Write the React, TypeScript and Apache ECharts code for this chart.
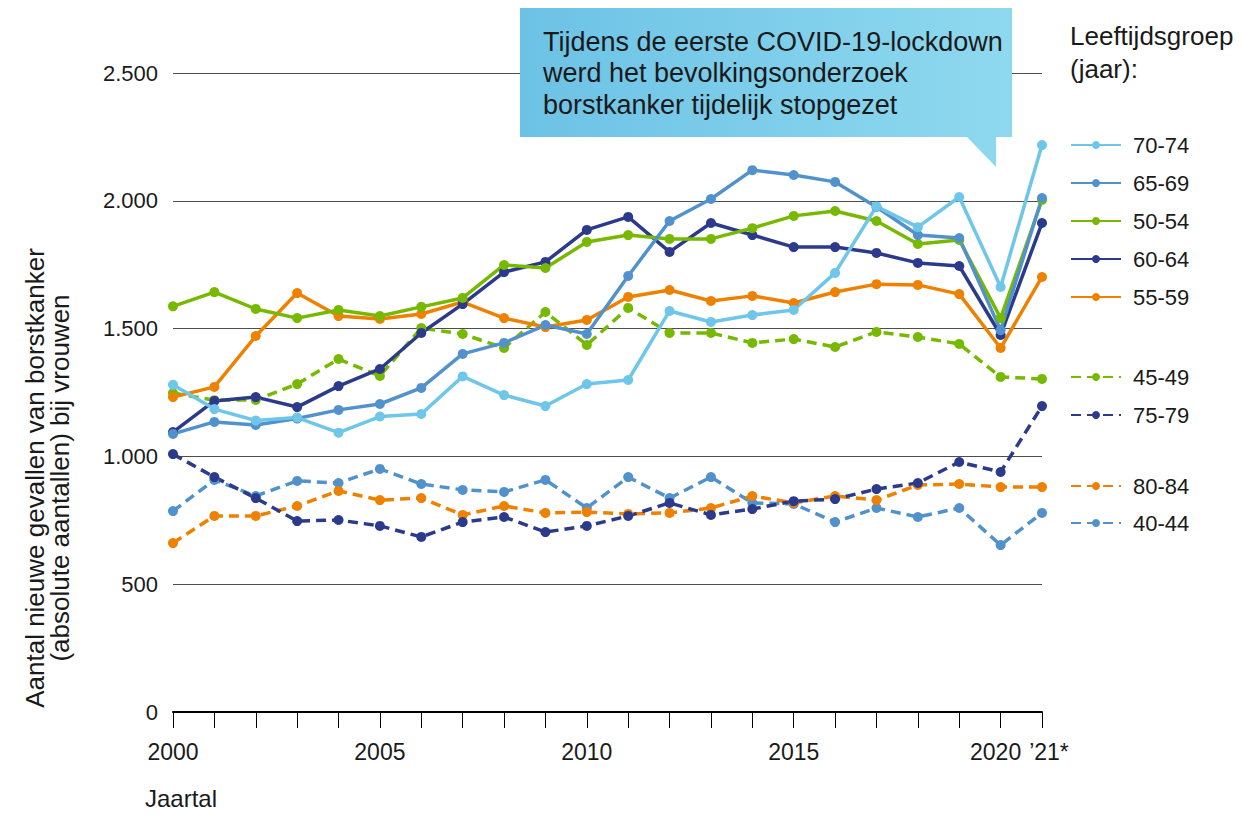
import React, { useEffect, useRef } from "react";
import * as echarts from "echarts";

const years = ["2000","2001","2002","2003","2004","2005","2006","2007","2008","2009","2010","2011","2012","2013","2014","2015","2016","2017","2018","2019","2020","2021"];
const yearLabels: Record<string, string> = { "2000": "2000", "2005": "2005", "2010": "2010", "2015": "2015", "2020": "{l|2020}", "2021": "{r|\u201921*}" };

const s7074 = [1280, 1185, 1140, 1152, 1093, 1156, 1166, 1313, 1240, 1197, 1283, 1299, 1569, 1526, 1553, 1573, 1718, 1978, 1897, 2015, 1663, 2218];
const s6569 = [1088, 1135, 1123, 1148, 1182, 1205, 1268, 1401, 1444, 1514, 1479, 1706, 1921, 2007, 2120, 2101, 2074, 1976, 1866, 1854, 1494, 2011];
const s5054 = [1587, 1643, 1577, 1541, 1573, 1549, 1585, 1620, 1749, 1737, 1839, 1866, 1851, 1851, 1893, 1941, 1960, 1921, 1831, 1847, 1541, 2003];
const s6064 = [1095, 1217, 1232, 1193, 1275, 1342, 1483, 1596, 1721, 1761, 1886, 1937, 1800, 1913, 1866, 1819, 1819, 1796, 1757, 1745, 1475, 1913];
const s5559 = [1232, 1272, 1471, 1639, 1549, 1538, 1557, 1604, 1541, 1506, 1534, 1624, 1651, 1608, 1628, 1600, 1643, 1674, 1671, 1635, 1424, 1702];
const s4549 = [1248, 1220, 1221, 1283, 1381, 1315, 1502, 1479, 1424, 1565, 1436, 1581, 1483, 1483, 1444, 1459, 1428, 1487, 1467, 1440, 1311, 1303];
const s7579 = [1009, 919, 837, 747, 751, 728, 685, 743, 763, 704, 728, 767, 818, 771, 794, 825, 833, 872, 896, 978, 939, 1197];
const s8084 = [661, 767, 767, 806, 865, 829, 837, 771, 806, 779, 782, 775, 779, 798, 845, 818, 845, 829, 888, 892, 880, 880];
const s4044 = [786, 908, 845, 904, 896, 951, 892, 869, 861, 908, 798, 919, 837, 919, 818, 814, 743, 798, 763, 798, 653, 779];

const legendSolid = ["70-74", "65-69", "50-54", "60-64", "55-59"];
const legendDashA = ["45-49", "75-79"];
const legendDashB = ["80-84", "40-44"];

const yTitle = ["Aantal nieuwe gevallen van borstkanker", "(absolute aantallen) bij vrouwen"];
const calloutText = ["Tijdens de eerste COVID-19-lockdown", "werd het bevolkingsonderzoek", "borstkanker tijdelijk stopgezet"];

const C_LIGHT = "#6EC6E9";
const C_MID = "#5192CD";
const C_GREEN = "#76B900";
const C_NAVY = "#2C3A8C";
const C_ORANGE = "#EE8100";

const FONT = "'Liberation Sans', Arial, Helvetica, sans-serif";
const TXT = "#1a1a1a";

export default function App() {
  const ref = useRef<HTMLDivElement>(null);
  useEffect(() => {
    if (!ref.current) return;
    const chart = echarts.init(ref.current, null, { renderer: "svg" });
    const mk = (name: string, data: number[], color: string, dashed: boolean) => ({
      name,
      type: "line",
      data,
      symbol: "circle",
      symbolSize: 10,
      showSymbol: true,
      itemStyle: { color },
      lineStyle: { color, width: 3.5, type: dashed ? [10, 6] : "solid" },
      emphasis: { disabled: true },
    });
    const legendBase = {
      orient: "vertical",
      left: 1070,
      padding: 0,
      itemWidth: 50,
      itemHeight: 10,
      selectedMode: false,
      textStyle: { fontFamily: FONT, fontSize: 22, color: TXT, lineHeight: 22, padding: [0, 0, 0, 7] },
    };
    chart.setOption({
      animation: false,
      textStyle: { fontFamily: FONT },
      grid: { left: 173, right: 200, top: 73, bottom: 102, containLabel: false },
      xAxis: {
        type: "category",
        data: years,
        boundaryGap: false,
        axisLine: { lineStyle: { color: "#000", width: 2 } },
        axisTick: { show: true, length: 16, interval: 0, lineStyle: { color: "#000", width: 1 } },
        axisLabel: {
          interval: 0,
          margin: 28,
          fontSize: 23,
          color: TXT,
          fontFamily: FONT,
          formatter: (v: string) => yearLabels[v] || "",
          rich: {
            l: { fontSize: 23, color: TXT, fontFamily: FONT, padding: [0, 10, 0, 0] },
            r: { fontSize: 23, color: TXT, fontFamily: FONT, padding: [0, 0, 0, 14] },
          },
        },
        splitLine: { show: false },
      },
      yAxis: {
        type: "value",
        min: 0,
        max: 2500,
        interval: 500,
        axisLine: { show: false },
        axisTick: { show: false },
        axisLabel: {
          margin: 15,
          fontSize: 22,
          color: TXT,
          fontFamily: FONT,
          formatter: (v: number) => v.toString().replace(/\B(?=(\d{3})+(?!\d))/g, "."),
        },
        splitLine: { lineStyle: { color: "#4d4d4d", width: 1 } },
      },
      legend: [
        { ...legendBase, top: 134, itemGap: 16, data: legendSolid },
        { ...legendBase, top: 366, itemGap: 16, data: legendDashA },
        { ...legendBase, top: 475, itemGap: 15, data: legendDashB },
      ],
      series: [
        mk("40-44", s4044, C_MID, true),
        mk("80-84", s8084, C_ORANGE, true),
        mk("75-79", s7579, C_NAVY, true),
        mk("45-49", s4549, C_GREEN, true),
        mk("55-59", s5559, C_ORANGE, false),
        mk("60-64", s6064, C_NAVY, false),
        mk("50-54", s5054, C_GREEN, false),
        mk("65-69", s6569, C_MID, false),
        mk("70-74", s7074, C_LIGHT, false),
      ],
      graphic: [
        {
          type: "polygon",
          z: 100,
          shape: {
            points: [[520, 8], [1012, 8], [1012, 137], [996, 137], [996, 167], [967, 137], [520, 137]],
          },
          style: {
            fill: new echarts.graphic.LinearGradient(0, 0, 1, 0, [
              { offset: 0, color: "#6CC2E5" },
              { offset: 1, color: "#8FD9EF" },
            ]),
          },
        },
        {
          type: "text",
          z: 101,
          x: 543,
          y: 26,
          style: {
            text: calloutText.join("\n"),
            fontFamily: FONT,
            fontSize: 27,
            lineHeight: 31.5,
            fill: TXT,
            align: "left",
            verticalAlign: "top",
          },
        },
        {
          type: "text",
          x: 47,
          y: 478,
          rotation: Math.PI / 2,
          style: {
            text: yTitle.join("\n"),
            fontFamily: FONT,
            fontSize: 26,
            lineHeight: 25,
            fill: TXT,
            align: "center",
            verticalAlign: "middle",
          },
        },
        {
          type: "text",
          x: 145,
          y: 798,
          style: { text: "Jaartal", fontFamily: FONT, fontSize: 24, fill: TXT, align: "left", verticalAlign: "middle" },
        },
        {
          type: "text",
          x: 1070,
          y: 19,
          style: {
            text: "Leeftijdsgroep\n(jaar):",
            fontFamily: FONT,
            fontSize: 26,
            lineHeight: 33,
            fill: TXT,
            align: "left",
            verticalAlign: "top",
          },
        },
      ],
    });
    return () => chart.dispose();
  }, []);
  return <div ref={ref} style={{ position: "absolute", left: 0, top: 0, width: 1242, height: 814 }} />;
}
